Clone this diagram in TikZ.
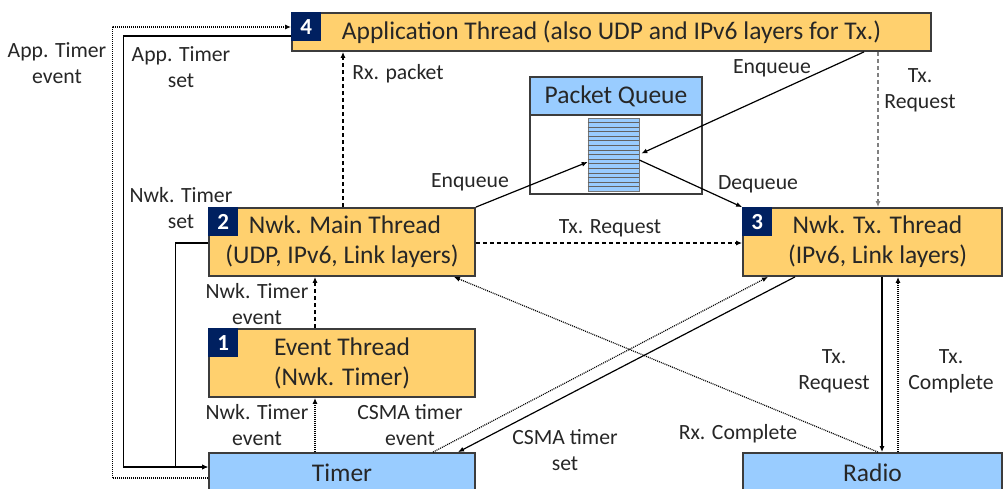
\documentclass[tikz,border=0pt]{standalone}
\usepackage{fontspec}
\setmainfont{Carlito}
\usepackage{tikz}
\usetikzlibrary{positioning,calc,arrows.meta}
\usepackage{xcolor}
\definecolor{threadfill}{RGB}{255,208,110}
\definecolor{hwfill}{RGB}{153,204,255}
\definecolor{navy}{RGB}{0,32,96}
\definecolor{boxline}{RGB}{60,60,60}
\definecolor{textcol}{RGB}{38,38,38}
\newcommand\boxfont{\fontsize{25.5}{30}\selectfont}
\newcommand\lblfont{\fontsize{21.7}{26}\selectfont}
\newcommand\badgefont{\fontsize{23}{26}\selectfont\bfseries}

\begin{document}
\begin{tikzpicture}[x=1pt, y=-1pt,
    thread/.style={rectangle, draw=boxline, line width=1.8pt, fill=threadfill, align=center, font=\boxfont, text=textcol, inner sep=0pt},
    hw/.style={thread, fill=hwfill},
    badge/.style={rectangle, fill=navy, text=white, font=\badgefont, minimum width=30pt, minimum height=29pt, inner sep=0pt, anchor=north west},
    lbl/.style={align=center, font=\lblfont, text=textcol, inner sep=0pt},
    arrow/.style={-{Latex[length=6pt,width=5pt]}, line width=1.2pt},
    dots/.style={arrow, dash pattern=on 1pt off 1pt},
    dashes/.style={arrow, dash pattern=on 4pt off 3pt}
]
    \clip (0,0) rectangle (1003,489);

    % threads
    \node[thread, minimum width=639pt, minimum height=38pt] (app) at (611.5,32) {Application Thread (also UDP and IPv6 layers for Tx.)};
    \node[thread, minimum width=266pt, minimum height=68pt] (main) at (342,242) {\hspace*{6pt}Nwk. Main Thread\\(UDP, IPv6, Link layers)};
    \node[thread, minimum width=266pt, minimum height=68pt] (event) at (342,363) {Event Thread\\(Nwk. Timer)};
    \node[thread, minimum width=259pt, minimum height=68pt] (txthr) at (872.5,242) {\hspace*{10pt}Nwk. Tx. Thread\\\hspace*{10pt}(IPv6, Link layers)};

    \node[badge] (b4) at (app.north west) {4};
    \node[badge] (b2) at (main.north west) {2};
    \node[badge] (b1) at (event.north west) {1};
    \node[badge] (b3) at (txthr.north west) {3};

    % hardware
    \node[hw, minimum width=266pt, minimum height=40pt] (timer) at (342,473) {Timer};
    \node[hw, minimum width=259pt, minimum height=40pt] (radio) at (872.5,473) {Radio};

    % packet queue
    \node[hw, minimum width=172pt, minimum height=38pt] (pqhead) at (616,96) {Packet Queue};
    \node[thread, fill=white, minimum width=172pt, minimum height=79pt] (pqbody) at (616,154.5) {};
    \node[rectangle, draw=boxline!70, fill=hwfill, line width=0.6pt, minimum width=51pt, minimum height=73pt, inner sep=0pt] (stack) at (613.5,154.5) {};
    \foreach \i in {1,...,15}
        \draw[boxline!80, line width=0.5pt] ($(stack.north west)!\i/16!(stack.south west)$) -- ($(stack.north east)!\i/16!(stack.south east)$);

    % timer connections
    \draw[dots] ([yshift=-5pt]timer.west) -- ++(-96,0) |- ([yshift=5pt]app.west);
    \draw[arrow] ([yshift=-4pt]app.west) -- ++(-168,0) |- ([yshift=6pt]timer.west);
    \draw[arrow] ([yshift=-1pt]main.west) -- ++(-33,0) |- ([yshift=6pt]timer.west);
    \draw[dots] ([xshift=-27pt]timer.north) -- ([xshift=-27pt]event.south);
    \draw[dashes] ([xshift=-27pt]event.north) -- ([xshift=-27pt]main.south);
    \draw[dashes] ([xshift=1pt]main.north) -- ([xshift=1pt]main.north |- app.south);

    % queue connections
    \draw[arrow] (main.north east) -- ([yshift=-7.5pt]stack.west);
    \draw[arrow] ([xshift=252.5pt]app.south) -- ([xshift=2pt,yshift=1pt]stack.east);
    \draw[arrow] ([yshift=-5.5pt]stack.east) -- (txthr.north west);
    \draw[dashes, gray] ([xshift=5.5pt]txthr.north |- app.south) -- ([xshift=5.5pt]txthr.north);
    \draw[dashes] ([yshift=-1pt]main.east) -- ([yshift=-1pt]txthr.west);

    % radio connections
    \draw[dots] ([xshift=5.5pt]radio.north) -- ([xshift=-22pt]main.south east);
    \draw[dots] ([xshift=91pt]timer.north) -- ([xshift=-104.5pt]txthr.south);
    \draw[arrow] ([xshift=-77.5pt]txthr.south) -- ([xshift=116pt]timer.north);
    \draw[arrow] ([xshift=9.5pt]txthr.south) -- ([xshift=9.5pt]radio.north);
    \draw[dots] ([xshift=25.5pt]radio.north) -- ([xshift=25.5pt]txthr.south);

    % labels
    \node[lbl] (l1) at (57,63) {App. Timer\\event};
    \node[lbl] (l2) at (181,67) {App. Timer\\set};
    \node[lbl] (l3) at (398,74) {Rx. packet};
    \node[lbl] (l4) at (772,68) {Enqueue};
    \node[lbl] (l5) at (920,90) {Tx.\\Request};
    \node[lbl] (l6) at (470,182) {Enqueue};
    \node[lbl] (l7) at (758,184) {Dequeue};
    \node[lbl] (l8) at (181,208) {Nwk. Timer\\set};
    \node[lbl] (l9) at (610,228) {Tx. Request};
    \node[lbl] (l10) at (257,304) {Nwk. Timer\\event};
    \node[lbl] (l11) at (257,425) {Nwk. Timer\\event};
    \node[lbl] (l12) at (410,425) {CSMA timer\\event};
    \node[lbl] (l13) at (565,450) {CSMA timer\\set};
    \node[lbl] (l14) at (738,434) {Rx. Complete};
    \node[lbl] (l15) at (834,371) {Tx.\\Request};
    \node[lbl] (l16) at (951,371) {Tx.\\Complete};
\end{tikzpicture}
\end{document}
